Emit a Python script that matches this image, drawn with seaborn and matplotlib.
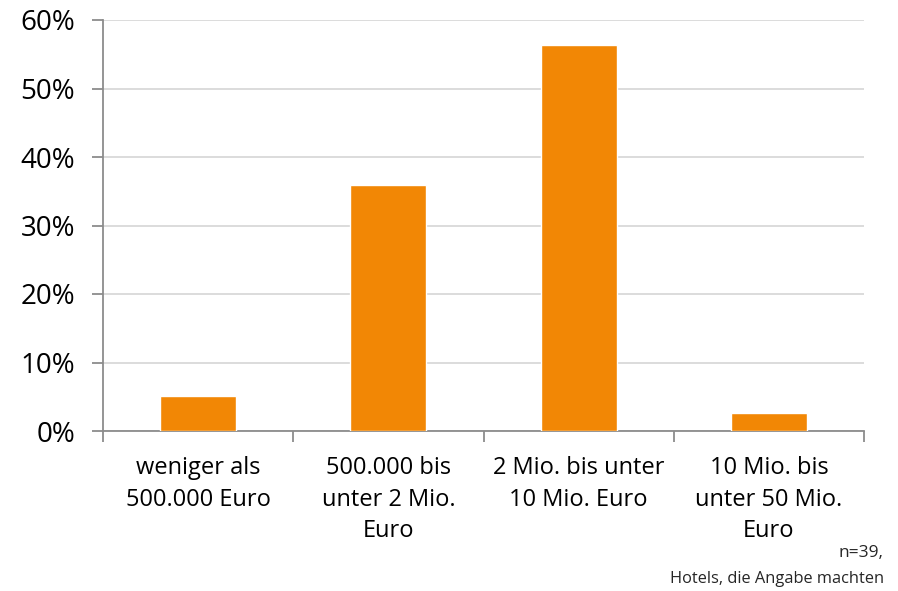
import matplotlib
matplotlib.use("Agg")
import matplotlib.pyplot as plt
import seaborn as sns
import pandas as pd
from matplotlib.ticker import FixedLocator, PercentFormatter

categories = ["weniger als\n500.000 Euro", "500.000 bis\nunter 2 Mio.\nEuro",
              "2 Mio. bis unter\n10 Mio. Euro", "10 Mio. bis\nunter 50 Mio.\nEuro"]
values = [5.13, 35.9, 56.4, 2.56]
y_ticks = [0, 10, 20, 30, 40, 50, 60]
note_line1 = "n=39,"
note_line2 = "Hotels, die Angabe machten"

sns.set_theme(style="white")
plt.rcParams['font.family'] = ['Open Sans', 'DejaVu Sans']

df = pd.DataFrame({"cat": categories, "val": values})
fig = plt.figure(figsize=(8.98, 5.91), dpi=100)
ax = fig.add_axes([103/898, 1-431/591, (864-103)/898, (431-20)/591])
sns.barplot(data=df, x="cat", y="val", color="#F28705", width=0.4,
            saturation=1, ax=ax, zorder=3)
ax.set_xlim(-0.5, 3.5)
ax.set_ylim(0, 60)
ax.set_yticks(y_ticks)
ax.yaxis.set_major_formatter(PercentFormatter(decimals=0))
ax.set_xlabel("")
ax.set_ylabel("")
ax.grid(axis="y", color="#d9d9d9", linewidth=1.3, zorder=0)
for s in ["top", "right"]:
    ax.spines[s].set_visible(False)
for s in ["left", "bottom"]:
    ax.spines[s].set_color("#8c8c8c")
    ax.spines[s].set_linewidth(1.3)
ax.tick_params(axis="y", which="major", length=8, width=1.3, color="#8c8c8c",
               labelsize=20, pad=12, direction="out", left=True, labelcolor="black")
ax.tick_params(axis="x", which="major", length=0, labelsize=17, pad=18, labelcolor="black")
ax.xaxis.set_minor_locator(FixedLocator([-0.5, 0.5, 1.5, 2.5, 3.5]))
ax.tick_params(axis="x", which="minor", length=8, width=1.3, color="#8c8c8c",
               direction="out", bottom=True)
for lbl in ax.get_xticklabels():
    lbl.set_linespacing(1.42)
fig.text(883/898, 1-557/591, note_line1, ha="right", va="baseline", fontsize=12.5)
fig.text(884/898, 1-583/591, note_line2, ha="right", va="baseline", fontsize=11.8)
fig.savefig("out.png", dpi=100)
